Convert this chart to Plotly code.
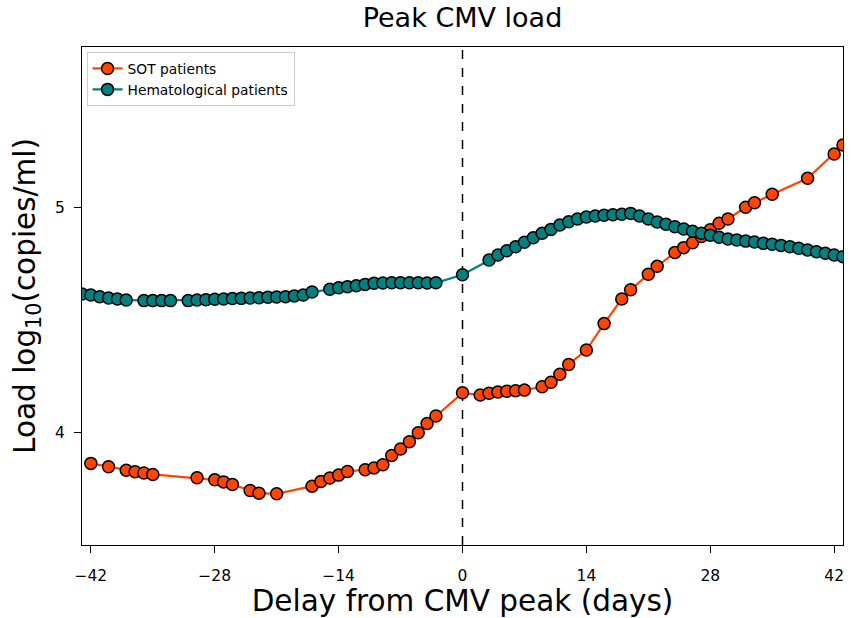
import plotly.graph_objects as go

# SOT patients (orange)
sot_days = [-42, -40, -38, -37, -36, -35, -30, -28, -27, -26, -24, -23, -21,
            -17, -16, -15, -14, -13, -11, -10, -9, -8, -7, -6, -5, -4, -3, 0,
            2, 3, 4, 5, 6, 7, 9, 10, 11, 12, 14, 16, 18, 19, 21, 22, 24, 25, 26,
            27, 28, 29, 30, 32, 33, 35, 39, 42, 43]
sot_load = [3.864, 3.849, 3.834, 3.827, 3.821, 3.815, 3.800, 3.791, 3.782, 3.770,
            3.744, 3.732, 3.729, 3.763, 3.784, 3.799, 3.812, 3.828, 3.836, 3.844,
            3.858, 3.899, 3.928, 3.960, 4.000, 4.041, 4.074, 4.177,
            4.167, 4.175, 4.181, 4.184, 4.186, 4.189, 4.204, 4.224, 4.259, 4.303,
            4.367, 4.484, 4.593, 4.634, 4.703, 4.738, 4.799, 4.821, 4.843,
            4.870, 4.900, 4.929, 4.948, 5.000, 5.020, 5.058, 5.129, 5.236, 5.276]

# Hematological patients (teal)
hem_days = [-43, -42, -41, -40, -39, -38, -36, -35, -34, -33,
            -31, -30, -29, -28, -27, -26, -25, -24, -23, -22, -21, -20, -19, -18, -17,
            -15, -14, -13, -12, -11, -10, -9, -8, -7, -6, -5, -4, -3, 0,
            3, 4, 5, 6, 7, 8, 9, 10, 11, 12, 13, 14, 15, 16, 17, 18, 19, 20, 21,
            22, 23, 24, 25, 26, 27, 28, 29, 30, 31, 32, 33, 34, 35, 36, 37, 38,
            39, 40, 41, 42, 43]
hem_load = [4.615, 4.611, 4.603, 4.598, 4.593, 4.589, 4.586, 4.586, 4.586, 4.586,
            4.586, 4.589, 4.590, 4.592, 4.593, 4.595, 4.596, 4.598, 4.599, 4.601,
            4.602, 4.603, 4.607, 4.611, 4.624,
            4.636, 4.643, 4.648, 4.652, 4.658, 4.663, 4.664, 4.665, 4.665, 4.665,
            4.665, 4.664, 4.665, 4.701,
            4.766, 4.788, 4.807, 4.825, 4.845, 4.865, 4.885, 4.902, 4.921, 4.936,
            4.948, 4.957, 4.961, 4.965, 4.967, 4.969, 4.973, 4.961, 4.948, 4.935,
            4.925, 4.914, 4.904, 4.894, 4.885, 4.876, 4.867, 4.859, 4.855, 4.850,
            4.846, 4.840, 4.836, 4.831, 4.825, 4.818, 4.811, 4.803, 4.796, 4.788,
            4.781]

x_ticks = [-42, -28, -14, 0, 14, 28, 42]
x_ticktext = ["\u221242", "\u221228", "\u221214", "0", "14", "28", "42"]
y_ticks = [4, 5]

FONT = "DejaVu Sans"

fig = go.Figure()
fig.add_trace(go.Scatter(
    x=sot_days, y=sot_load, mode="lines+markers", name="SOT patients",
    line=dict(color="#FF4500", width=2.2),
    marker=dict(size=12, color="#FF4500", line=dict(color="black", width=1.5)),
    cliponaxis=True,
))
fig.add_trace(go.Scatter(
    x=hem_days, y=hem_load, mode="lines+markers", name="Hematological patients",
    line=dict(color="#008080", width=2.2),
    marker=dict(size=12, color="#008080", line=dict(color="black", width=1.5)),
    cliponaxis=True,
))

fig.add_shape(type="line", xref="x", yref="paper", x0=0, x1=0, y0=0, y1=1,
              line=dict(color="black", width=1.5, dash="dash"), layer="below")

fig.update_layout(
    width=855, height=618,
    margin=dict(l=82, r=12, t=47, b=73),
    paper_bgcolor="white", plot_bgcolor="white",
    font=dict(family=FONT, color="black", size=15),
    title=dict(text="Peak CMV load", x=0.5, xref="paper", y=1 - 18 / 618,
               yanchor="middle", xanchor="center",
               font=dict(family=FONT, size=27, color="black")),
    showlegend=True,
    legend=dict(x=0.006, y=0.99, xanchor="left", yanchor="top",
                bgcolor="white", bordercolor="#cccccc", borderwidth=1,
                font=dict(family=FONT, size=13.8, color="black"),
                tracegroupgap=0, itemwidth=30),
)
fig.update_xaxes(
    range=[-43, 43], tickmode="array", tickvals=x_ticks, ticktext=x_ticktext,
    showgrid=False, zeroline=False, showline=True, mirror=True,
    linecolor="black", linewidth=1.2, ticks="outside", ticklen=7, tickwidth=1.2,
    tickcolor="black", tickfont=dict(size=15.5), ticklabelstandoff=9,
    title=dict(text="Delay from CMV peak (days)", font=dict(size=29.5), standoff=2),
)
fig.update_yaxes(
    range=[3.502, 5.711], tickmode="array", tickvals=y_ticks,
    showgrid=False, zeroline=False, showline=True, mirror=True,
    linecolor="black", linewidth=1.2, ticks="outside", ticklen=7, tickwidth=1.2,
    tickcolor="black", tickfont=dict(size=15.5), ticklabelstandoff=6,
    title=dict(text="Load log<sub>10</sub>(copies/ml)", font=dict(size=29.5), standoff=10),
)

fig.write_html("out.html")
